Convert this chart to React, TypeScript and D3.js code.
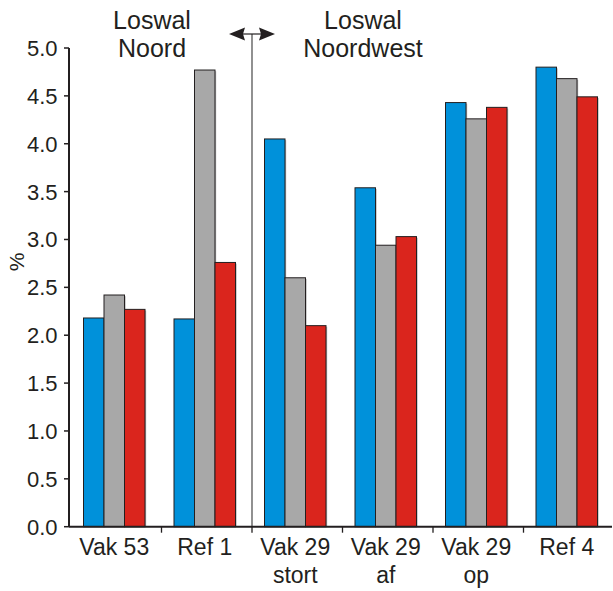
import React from "react";
import * as d3 from "d3";

const categories = ["Vak 53", "Ref 1", "Vak 29 stort", "Vak 29 af", "Vak 29 op", "Ref 4"];
const categoryLines = [["Vak 53"], ["Ref 1"], ["Vak 29", "stort"], ["Vak 29", "af"], ["Vak 29", "op"], ["Ref 4"]];
const seriesNames = ["blue", "gray", "red"];
const blueValues = [2.18, 2.17, 4.05, 3.54, 4.43, 4.8];
const grayValues = [2.42, 4.77, 2.6, 2.94, 4.26, 4.68];
const redValues = [2.27, 2.76, 2.1, 3.03, 4.38, 4.49];
const yTicks = [0, 0.5, 1, 1.5, 2, 2.5, 3, 3.5, 4, 4.5, 5];
const colors = ["#0091da", "#a8a8a8", "#da251d"];

const W = 613, H = 591;
const left = 69, right = 612, top = 48, bottom = 526.7;
const font = "'Liberation Sans', Arial, sans-serif";

export default function App() {
  const x = d3.scaleBand<string>().domain(categories).range([left, right]).padding(0);
  const bw = x.bandwidth();
  const inner = d3.scaleBand<string>().domain(seriesNames).range([14.5, bw - 14.5]).padding(0);
  const y = d3.scaleLinear().domain([0, 5]).range([bottom, top]);
  const values = [blueValues, grayValues, redValues];
  const divX = (x(categories[2]) as number) + 2;
  const arrowY = 34;

  return (
    <svg width={W} height={H} style={{ position: "absolute", left: 0, top: 0, background: "#fff" }} fontFamily={font}>
      {/* bars */}
      {categories.map((c, i) => (
        <g key={c} transform={`translate(${x(c)},0)`}>
          {seriesNames.map((s, j) => {
            const v = values[j][i];
            return (
              <g key={s}>
                <rect x={(inner(s) as number) + 1.2} y={y(v) + 1.2} width={inner.bandwidth()} height={bottom - y(v) - 1.2} fill="#777" opacity={0.5} />
                <rect x={inner(s)} y={y(v)} width={inner.bandwidth()} height={bottom - y(v)} fill={colors[j]} stroke="#231f20" strokeWidth={1} />
              </g>
            );
          })}
        </g>
      ))}
      {/* divider */}
      <line x1={divX} x2={divX} y1={arrowY} y2={bottom} stroke="#555" strokeWidth={1.3} />
      <line x1={divX - 10} x2={divX + 10} y1={arrowY} y2={arrowY} stroke="#231f20" strokeWidth={1.2} />
      <path d={`M${divX - 23},${arrowY} L${divX - 7},${arrowY - 6.5} L${divX - 9},${arrowY} L${divX - 7},${arrowY + 6.5} Z`} fill="#231f20" />
      <path d={`M${divX + 23},${arrowY} L${divX + 7},${arrowY - 6.5} L${divX + 9},${arrowY} L${divX + 7},${arrowY + 6.5} Z`} fill="#231f20" />
      {/* y axis */}
      <line x1={left} x2={left} y1={top} y2={bottom} stroke="#231f20" strokeWidth={2} />
      {yTicks.map((t) => (
        <g key={t}>
          <line x1={left - 5} x2={left} y1={y(t)} y2={y(t)} stroke="#231f20" strokeWidth={1.5} />
          <text x={left - 11.5} y={y(t)} dy="0.36em" textAnchor="end" fontSize={22} fill="#231f20">{t.toFixed(1)}</text>
        </g>
      ))}
      {/* x axis */}
      <line x1={left} x2={right} y1={bottom} y2={bottom} stroke="#231f20" strokeWidth={2} />
      {categories.map((c) => (
        <line key={c} x1={(x(c) as number) + bw + 2} x2={(x(c) as number) + bw + 2} y1={bottom} y2={bottom + 6} stroke="#231f20" strokeWidth={1.3} />
      ))}
      {categories.map((c, i) => (
        <text key={c} x={(x(c) as number) + bw / 2} y={554.5} textAnchor="middle" fontSize={23} fill="#231f20">
          {categoryLines[i].map((ln, k) => (
            <tspan key={k} x={(x(c) as number) + bw / 2} dy={k === 0 ? 0 : 28}>{ln}</tspan>
          ))}
        </text>
      ))}
      {/* y label */}
      <text transform={`translate(24,262) rotate(-90)`} textAnchor="middle" fontSize={21} fill="#231f20">%</text>
      {/* region titles */}
      <text x={152} y={29} textAnchor="middle" fontSize={25} fill="#231f20">Loswal</text>
      <text x={152} y={57} textAnchor="middle" fontSize={25} fill="#231f20">Noord</text>
      <text x={363} y={29} textAnchor="middle" fontSize={25} fill="#231f20">Loswal</text>
      <text x={363} y={57} textAnchor="middle" fontSize={25} fill="#231f20">Noordwest</text>
    </svg>
  );
}
